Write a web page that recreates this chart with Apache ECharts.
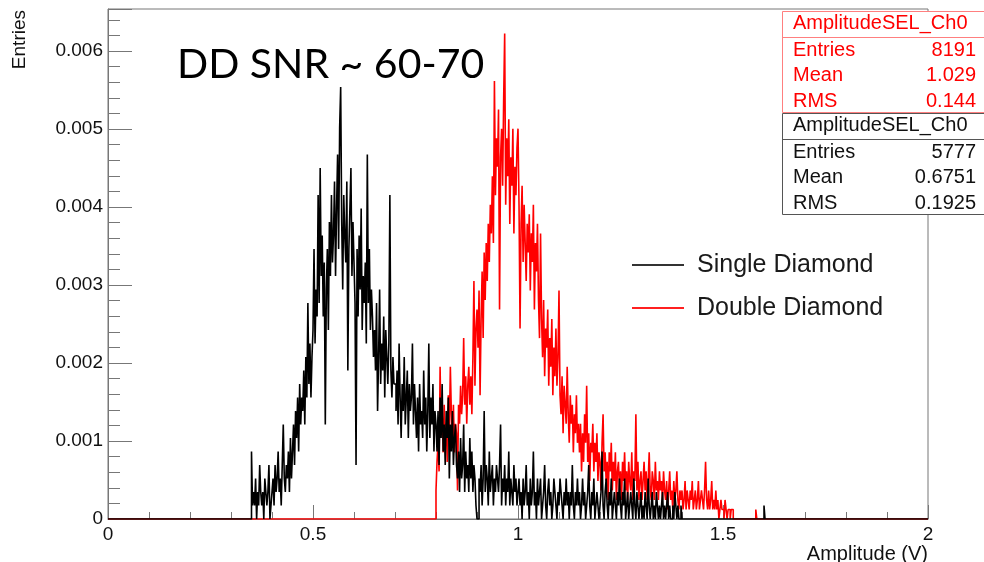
<!DOCTYPE html>
<html>
<head>
<meta charset="utf-8">
<script src="https://cdn.jsdelivr.net/npm/echarts@6.0.0/dist/echarts.min.js"></script>
<style>
html,body{margin:0;padding:0;background:#fff}
#chart{width:984px;height:562px}
</style>
</head>
<body>
<div id="chart"></div>
<script>
// histogram bins (width in V), counts per bin, normalised by entries
var binWidth = 0.0025

// Single Diamond: bins from 0.35 V, one row = 0.05 V
var singleStart = 0.35
var singleEntries = 5777
var singleCounts = [
  5,1,2,1,3,0,2,1,4,2,1,2,0,3,2,1,2,4,0,1,
  2,3,1,4,2,3,5,2,3,1,4,7,3,2,4,3,5,2,6,3,
  5,7,4,8,6,9,5,10,7,9,8,11,7,12,9,16,10,13,9,12,
  14,20,13,17,15,24,16,26,18,21,15,19,7,17,20,14,22,18,24,19,
  21,25,18,23,27,20,29,32,22,17,24,21,19,25,11,20,23,26,18,22,
  19,16,4,20,15,21,17,23,14,18,16,19,13,27,16,20,14,17,15,12,
  14,11,16,8,12,17,10,13,11,15,9,14,12,10,13,24,11,9,12,10,
  10,8,11,7,13,9,6,10,8,12,7,9,11,6,10,8,9,13,7,10,
  8,6,9,5,10,7,8,6,11,7,9,5,8,13,6,9,7,10,5,8,
  7,5,8,4,9,6,10,5,7,4,8,6,9,3,7,5,8,4,6,7,
  4,3,5,2,6,3,4,7,2,5,3,4,2,6,3,5,2,4,3,1,
  0,0,3,2,4,1,3,8,2,4,3,1,5,2,3,4,1,3,2,4,
  3,2,4,7,1,3,2,4,1,3,2,5,1,3,2,1,4,2,3,1,
  2,3,1,2,0,3,1,2,4,1,2,0,3,1,2,5,1,2,0,3,
  1,2,3,0,1,2,4,1,0,2,3,1,2,0,1,3,2,1,0,2,
  1,3,2,1,0,2,1,3,1,2,0,2,1,4,1,0,2,1,3,1,
  2,0,1,3,1,2,0,1,2,4,1,0,2,1,3,0,1,2,1,0,
  1,2,5,1,0,2,3,1,0,2,1,3,0,1,2,1,0,2,1,3,
  1,0,2,1,3,0,1,2,0,1,2,1,0,3,1,0,2,1,0,1,
  2,0,1,0,2,1,0,3,1,0,1,2,0,1,0,2,1,0,1,0,
  1,2,0,1,0,1,2,0,1,0,0,1,0,2,1,0,1,0,0,1
]
var singleLone = [1.6]   // isolated single-entry bins

// Double Diamond: bins from 0.80 V
var doubleStart = 0.80
var doubleEntries = 8191
var doubleCounts = [
  3,6,8,5,16,9,11,7,12,8,10,6,13,9,16,11,8,12,7,10,
  9,3,12,10,14,11,13,19,12,15,10,14,16,12,15,11,17,25,14,20,
  22,18,24,13,21,26,19,28,23,29,25,31,27,33,30,36,29,46,34,40,
  37,43,22,38,41,35,44,51,33,40,36,42,31,38,35,41,30,37,34,39,
  41,33,20,31,35,27,33,29,25,31,28,32,24,30,27,33,22,29,26,31,
  23,19,30,21,17,23,15,20,18,22,14,19,16,21,13,18,15,20,14,17,
  24,13,11,15,9,14,12,10,16,11,8,13,10,12,7,11,9,13,8,10,
  7,10,5,9,6,11,8,14,6,9,4,8,7,10,5,8,6,9,4,7,
  6,3,8,11,5,7,4,6,2,7,5,8,3,6,4,7,2,5,6,3,
  5,2,6,4,7,3,5,2,6,4,3,7,2,5,4,11,3,6,2,4,
  5,2,4,6,3,5,2,4,7,3,2,5,4,2,6,3,4,2,5,3,
  4,2,5,3,2,4,1,3,5,2,3,1,4,2,3,5,2,1,3,2,
  3,1,2,4,1,3,2,1,3,2,4,1,2,3,1,2,4,1,2,3,
  2,1,3,6,2,1,3,1,2,4,1,2,1,3,1,2,0,1,2,1,
  1,0,2,1,0,1,1,0,1,1
]
var doubleLone = [1.58]

var statNames = ['Entries', 'Mean', 'RMS']
var doubleStats = ['8191', '1.029', '0.144']
var singleStats = ['5777', '0.6751', '0.1925']

var font = "'Liberation Sans', Arial, sans-serif"

function histPoints(start, counts, entries, lone) {
  var pts = [[0, 0]]
  for (var i = 0; i < counts.length; i++) {
    pts.push([+(start + i * binWidth).toFixed(4), counts[i] / entries])
  }
  pts.push([+(start + counts.length * binWidth).toFixed(4), 0])
  lone.forEach(function (x) {
    pts.push([x, 1 / entries])
    pts.push([+(x + binWidth).toFixed(4), 0])
  })
  pts.push([2, 0])
  return pts
}

function statsBox(top, color, border, values) {
  var els = [
    {type: 'rect', shape: {x: 782.5, y: top + 0.5, width: 210, height: 101}, style: {fill: '#fff', stroke: border, lineWidth: 1}},
    {type: 'line', shape: {x1: 782, y1: top + 26.5, x2: 984, y2: top + 26.5}, style: {stroke: border, lineWidth: 1}},
    {type: 'text', x: 793, y: top + 12, style: {text: 'AmplitudeSEL_Ch0', fill: color, font: '20px ' + font, verticalAlign: 'middle'}}
  ]
  for (var i = 0; i < statNames.length; i++) {
    els.push({type: 'text', x: 793, y: top + 39 + i * 25.5, style: {text: statNames[i], fill: color, font: '20px ' + font, verticalAlign: 'middle'}})
    els.push({type: 'text', x: 976, y: top + 39 + i * 25.5, style: {text: values[i], fill: color, font: '20px ' + font, align: 'right', verticalAlign: 'middle'}})
  }
  return els
}

var chart = echarts.init(document.getElementById('chart'))
var option = {
  animation: false,
  backgroundColor: '#fff',
  title: {
    text: 'DD SNR ~ 60-70',
    left: 177, top: 44, padding: 0,
    textStyle: {fontFamily: 'Lato', fontSize: 41, fontWeight: 'normal', color: '#000'}
  },
  legend: {
    orient: 'vertical',
    left: 632, top: 251, padding: 0,
    itemWidth: 52, itemHeight: 2, itemGap: 15,
    icon: 'rect',
    data: [
      {name: 'Single Diamond', itemStyle: {color: '#333'}},
      {name: 'Double Diamond', itemStyle: {color: '#ff2020'}}
    ],
    textStyle: {fontFamily: font, fontSize: 25, color: '#1a1a1a', lineHeight: 28, padding: [0, 0, 0, 8]}
  },
  grid: {
    left: 108, right: 56, top: 9, bottom: 43,
    show: true, borderColor: '#777', borderWidth: 1,
    containLabel: false, outerBoundsMode: 'none'
  },
  xAxis: {
    type: 'value', min: 0, max: 2, interval: 0.5,
    name: 'Amplitude (V)', nameLocation: 'end', nameGap: 0,
    nameTextStyle: {fontFamily: font, fontSize: 20, color: '#111', align: 'right', verticalAlign: 'top', padding: [25, 0, 0, 0]},
    axisLine: {lineStyle: {color: '#777'}},
    axisTick: {inside: true, length: 14, lineStyle: {color: '#777'}},
    minorTick: {show: true, splitNumber: 5, length: 7, lineStyle: {color: '#777'}},
    splitLine: {show: false},
    axisLabel: {margin: 6, fontFamily: font, fontSize: 19, color: '#111', showMinLabel: true, showMaxLabel: true}
  },
  yAxis: [{
    type: 'value', min: 0, max: 0.00654, interval: 0.001, position: 'left',
    axisLine: {show: true, lineStyle: {color: '#777'}},
    axisTick: {show: true, inside: true, length: 24, lineStyle: {color: '#777'}},
    splitLine: {show: false},
    axisLabel: {
      margin: 5, fontFamily: font, fontSize: 19, color: '#111',
      formatter: function (v) {
        if (v === 0) return '0'
        if (Math.abs(v * 1000 - Math.round(v * 1000)) > 1e-6) return ''
        return v.toFixed(3)
      }
    }
  }, {
    // minor ticks every 0.0002
    type: 'value', min: 0, max: 0.00654, interval: 0.0002, position: 'left',
    axisLine: {show: false},
    axisTick: {show: true, inside: true, length: 12, lineStyle: {color: '#777'}},
    splitLine: {show: false},
    axisLabel: {show: false}
  }],
  graphic: [
    {type: 'text', x: 20, y: 10, rotation: Math.PI / 2,
      style: {text: 'Entries', fill: '#111', font: '19px ' + font, align: 'right', verticalAlign: 'middle'}}
  ].concat(statsBox(11, '#ff0000', '#ff7f7f', doubleStats), statsBox(113, '#111', '#555', singleStats)),
  series: [{
    name: 'Double Diamond', type: 'line', step: 'end',
    data: histPoints(doubleStart, doubleCounts, doubleEntries, doubleLone),
    symbol: 'none', showSymbol: false, z: 2,
    lineStyle: {color: '#ff0000', width: 1.6},
    itemStyle: {color: '#ff0000'}
  }, {
    name: 'Single Diamond', type: 'line', step: 'end',
    data: histPoints(singleStart, singleCounts, singleEntries, singleLone),
    symbol: 'none', showSymbol: false, z: 3,
    lineStyle: {color: '#000', width: 1.6},
    itemStyle: {color: '#000'}
  }]
}
chart.setOption(option)
</script>
</body>
</html>
